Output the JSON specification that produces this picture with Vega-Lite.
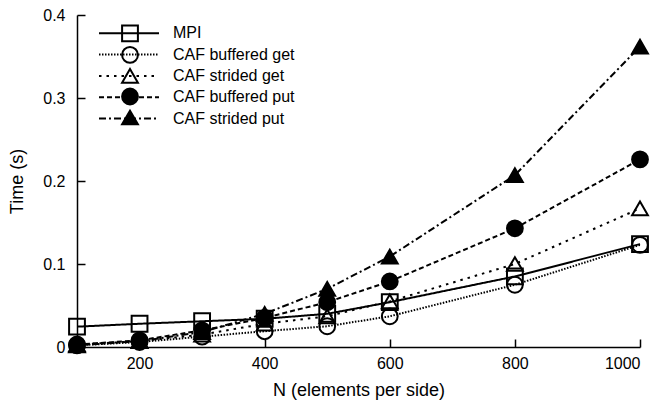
{
  "$schema": "https://vega.github.io/schema/vega-lite/v6.json",
  "autosize": {"type": "none"},
  "padding": {"left": 77, "top": 15, "right": 25, "bottom": 62},
  "width": 563,
  "height": 332,
  "data": {
    "values": [
      {"N": 100, "series": "MPI", "t": 0.0245},
      {"N": 200, "series": "MPI", "t": 0.028},
      {"N": 300, "series": "MPI", "t": 0.031},
      {"N": 400, "series": "MPI", "t": 0.034},
      {"N": 500, "series": "MPI", "t": 0.040},
      {"N": 600, "series": "MPI", "t": 0.054},
      {"N": 800, "series": "MPI", "t": 0.085},
      {"N": 1000, "series": "MPI", "t": 0.124},
      {"N": 100, "series": "CAF buffered get", "t": 0.002},
      {"N": 200, "series": "CAF buffered get", "t": 0.006},
      {"N": 300, "series": "CAF buffered get", "t": 0.0125},
      {"N": 400, "series": "CAF buffered get", "t": 0.019},
      {"N": 500, "series": "CAF buffered get", "t": 0.025},
      {"N": 600, "series": "CAF buffered get", "t": 0.037},
      {"N": 800, "series": "CAF buffered get", "t": 0.075},
      {"N": 1000, "series": "CAF buffered get", "t": 0.123},
      {"N": 100, "series": "CAF strided get", "t": 0.003},
      {"N": 200, "series": "CAF strided get", "t": 0.007},
      {"N": 300, "series": "CAF strided get", "t": 0.015},
      {"N": 400, "series": "CAF strided get", "t": 0.028},
      {"N": 500, "series": "CAF strided get", "t": 0.037},
      {"N": 600, "series": "CAF strided get", "t": 0.055},
      {"N": 800, "series": "CAF strided get", "t": 0.100},
      {"N": 1000, "series": "CAF strided get", "t": 0.167},
      {"N": 100, "series": "CAF buffered put", "t": 0.003},
      {"N": 200, "series": "CAF buffered put", "t": 0.008},
      {"N": 300, "series": "CAF buffered put", "t": 0.020},
      {"N": 400, "series": "CAF buffered put", "t": 0.035},
      {"N": 500, "series": "CAF buffered put", "t": 0.054},
      {"N": 600, "series": "CAF buffered put", "t": 0.079},
      {"N": 800, "series": "CAF buffered put", "t": 0.143},
      {"N": 1000, "series": "CAF buffered put", "t": 0.226},
      {"N": 100, "series": "CAF strided put", "t": 0.002},
      {"N": 200, "series": "CAF strided put", "t": 0.007},
      {"N": 300, "series": "CAF strided put", "t": 0.018},
      {"N": 400, "series": "CAF strided put", "t": 0.040},
      {"N": 500, "series": "CAF strided put", "t": 0.070},
      {"N": 600, "series": "CAF strided put", "t": 0.109},
      {"N": 800, "series": "CAF strided put", "t": 0.207},
      {"N": 1000, "series": "CAF strided put", "t": 0.362}
    ]
  },
  "encoding": {
    "x": {
      "field": "N", "type": "quantitative",
      "scale": {"domain": [100, 1000], "nice": false, "zero": false},
      "axis": {"title": "N (elements per side)", "values": [200, 400, 600, 800, 1000], "format": "d", "tickSize": -8, "labelPadding": 16, "titlePadding": 10}
    },
    "y": {
      "field": "t", "type": "quantitative",
      "scale": {"domain": [0, 0.4], "nice": false},
      "axis": {"title": "Time (s)", "values": [0, 0.1, 0.2, 0.3, 0.4], "format": ".1~f", "tickSize": -8, "labelPadding": 20, "titlePadding": 16}
    }
  },
  "layer": [
    {
      "mark": {"type": "line", "stroke": "black", "strokeWidth": 2},
      "encoding": {
        "strokeDash": {
          "field": "series", "type": "nominal",
          "sort": ["MPI", "CAF buffered get", "CAF strided get", "CAF buffered put", "CAF strided put"],
          "scale": {
            "range": [[1, 0], [1.5, 1.5], [2.5, 5], [5, 3], [7, 3, 2, 3]]
          },
          "legend": {
            "orient": "none", "legendX": 43.5, "legendY": 9.8, "title": null,
            "symbolType": "M-4,0H4", "symbolSize": 225, "symbolStrokeWidth": 2, "symbolStrokeColor": "black",
            "labelFontSize": 16, "labelFont": "Liberation Sans", "labelColor": "black", "labelOffset": 35.5,
            "rowPadding": 4.3, "padding": 0
          }
        }
      }
    },
    {
      "mark": {"type": "point", "strokeWidth": 2, "size": 250, "opacity": 1},
      "encoding": {
        "shape": {
          "field": "series", "type": "nominal",
          "scale": {
            "domain": ["MPI", "CAF buffered get", "CAF strided get", "CAF buffered put", "CAF strided put"],
            "range": ["square", "circle", "triangle-up", "circle", "triangle-up"]
          },
          "legend": {
            "orient": "none", "legendX": 44, "legendY": 9.3, "title": null,
            "symbolSize": 250, "symbolStrokeWidth": 2,
            "labelFontSize": 16, "labelExpr": "''", "rowPadding": -2.4, "padding": 0
          }
        },
        "fill": {
          "field": "series", "type": "nominal",
          "scale": {
            "domain": ["MPI", "CAF buffered get", "CAF strided get", "CAF buffered put", "CAF strided put"],
            "range": ["transparent", "transparent", "transparent", "black", "black"]
          },
          "legend": {
            "orient": "none", "legendX": 44, "legendY": 9.3, "title": null,
            "symbolSize": 250, "symbolStrokeWidth": 2,
            "labelFontSize": 16, "labelExpr": "''", "rowPadding": -2.4, "padding": 0
          }
        },
        "stroke": {
          "field": "series", "type": "nominal",
          "scale": {
            "domain": ["MPI", "CAF buffered get", "CAF strided get", "CAF buffered put", "CAF strided put"],
            "range": ["black", "black", "black", "black", "black"]
          },
          "legend": {
            "orient": "none", "legendX": 44, "legendY": 9.3, "title": null,
            "symbolSize": 250, "symbolStrokeWidth": 2,
            "labelFontSize": 16, "labelExpr": "''", "rowPadding": -2.4, "padding": 0
          }
        }
      }
    }
  ],
  "config": {
    "view": {"stroke": null},
    "font": "Liberation Sans",
    "axis": {
      "grid": false, "domainColor": "black", "domainWidth": 1.5, "tickColor": "black", "tickWidth": 1.5,
      "labelColor": "black", "labelFontSize": 16, "labelFont": "Liberation Sans",
      "titleColor": "black", "titleFontSize": 18, "titleFontWeight": "normal", "titleFont": "Liberation Sans"
    }
  }
}
